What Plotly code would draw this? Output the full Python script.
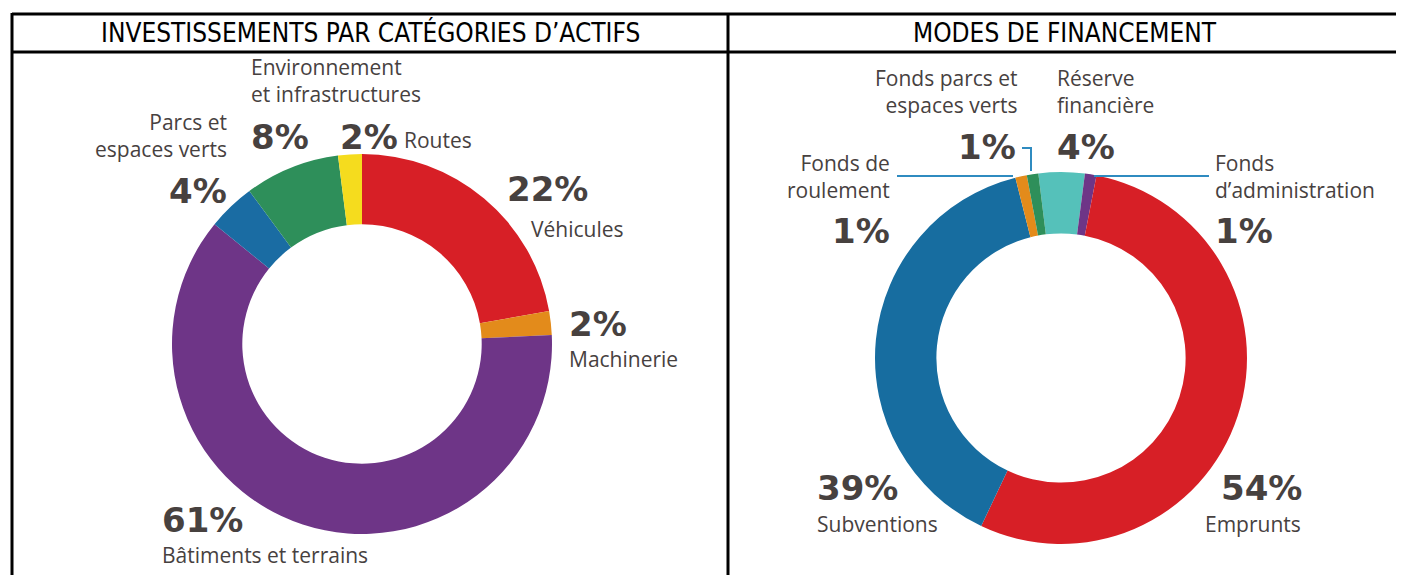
import plotly.graph_objects as go

W, H = 1404, 575
OX, OY = 8, 8  # page body margin offset

# ---- data ----
asset_labels = ["Véhicules", "Machinerie", "Bâtiments et terrains", "Parcs et espaces verts",
                "Environnement et infrastructures", "Routes"]
asset_values = [22, 2, 61, 4, 8, 2]
asset_colors = ["#D71F26", "#E38B1B", "#6E3587", "#1A6CA3", "#2E8F5A", "#F5DC1E"]

fin_labels = ["Réserve financière", "Fonds d’administration", "Emprunts", "Subventions",
              "Fonds de roulement", "Fonds parcs et espaces verts"]
fin_values = [4, 1, 54, 39, 1, 1]
fin_colors = ["#55C1BA", "#6E3587", "#D71F26", "#176DA0", "#E38B1B", "#2E8F5A"]

titles = ["INVESTISSEMENTS PAR CATÉGORIES D’ACTIFS", "MODES DE FINANCEMENT"]

# label texts (with line breaks) per slice
asset_label_text = ["Véhicules", "Machinerie", "Bâtiments et terrains", "Parcs et<br>espaces verts",
                    "Environnement<br>et infrastructures", "Routes"]
fin_label_text = ["Réserve<br>financière", "Fonds<br>d’administration", "Emprunts", "Subventions",
                  "Fonds de<br>roulement", "Fonds parcs et<br>espaces verts"]


def px(x):
    return (x - OX) / W


def py(y):
    return 1 - (y - OY) / H


def dom(cx, cy, r):
    return dict(x=[px(cx - r), px(cx + r)], y=[py(cy + r), py(cy - r)])


fig = go.Figure()
fig.add_trace(go.Pie(labels=asset_labels, values=asset_values, hole=0.63, sort=False,
                     direction="clockwise", rotation=0, textinfo="none",
                     marker=dict(colors=asset_colors, line=dict(width=0)),
                     domain=dom(362, 344, 190), showlegend=False))
fig.add_trace(go.Pie(labels=fin_labels, values=fin_values, hole=0.67, sort=False,
                     direction="clockwise", rotation=-7, textinfo="none",
                     marker=dict(colors=fin_colors, line=dict(width=0)),
                     domain=dom(1061, 358, 186), showlegend=False))

PCT_FONT = dict(family="DejaVu Sans", size=34, color="#47413F", weight="bold")
LAB_FONT = dict(family="Open Sans", size=21, color="#47413F")

ann = []


def pct(v, x, y, anchor):
    ann.append(dict(text=f"{v}%", x=px(x), y=py(y), xanchor=anchor, yanchor="middle",
                    font=PCT_FONT, showarrow=False, xref="paper", yref="paper",
                    borderpad=0))


def lab(t, x, y, anchor, yanchor="middle"):
    ann.append(dict(text=t, x=px(x), y=py(y), xanchor=anchor, yanchor=yanchor, align=anchor,
                    font=LAB_FONT, showarrow=False, xref="paper", yref="paper",
                    borderpad=0))


# left donut labels
pct(asset_values[0], 506, 189, "left"); lab(asset_label_text[0], 530, 229, "left")
pct(asset_values[1], 568, 324, "left"); lab(asset_label_text[1], 568, 359, "left")
pct(asset_values[2], 161, 520, "left"); lab(asset_label_text[2], 161, 555, "left")
pct(asset_values[3], 228, 191, "right"); lab(asset_label_text[3], 228, 136, "right")
pct(asset_values[4], 250, 137, "left"); lab(asset_label_text[4], 250, 81, "left")
pct(asset_values[5], 339, 137, "left"); lab(asset_label_text[5], 403, 140, "left")

# right donut labels
pct(fin_values[0], 1056, 147, "left"); lab(fin_label_text[0], 1056, 91, "left")
pct(fin_values[1], 1214, 231, "left"); lab(fin_label_text[1], 1214, 176, "left")
pct(fin_values[2], 1303, 488, "right"); lab(fin_label_text[2], 1302, 524, "right")
pct(fin_values[3], 816, 488, "left"); lab(fin_label_text[3], 816, 524, "left")
pct(fin_values[4], 891, 231, "right"); lab(fin_label_text[4], 891, 176, "right")
pct(fin_values[5], 1017, 147, "right"); lab(fin_label_text[5], 1019, 91, "right")

# headers
for t, cx in zip(titles, [370, 1065]):
    ann.append(dict(text=t, x=px(cx), y=py(33), xanchor="center", yanchor="middle",
                    font=dict(family="DejaVu Sans Condensed, sans-serif", size=26, color="#000000"),
                    showarrow=False, xref="paper", yref="paper"))

shapes = []
BL = dict(color="#000000", width=3)
shapes.append(dict(type="line", xref="paper", yref="paper", x0=px(12), x1=px(1420), y0=py(14), y1=py(14), line=BL))
shapes.append(dict(type="line", xref="paper", yref="paper", x0=px(12), x1=px(1420), y0=py(52), y1=py(52), line=BL))
shapes.append(dict(type="line", xref="paper", yref="paper", x0=px(12), x1=px(12), y0=py(13), y1=py(590), line=BL))
shapes.append(dict(type="line", xref="paper", yref="paper", x0=px(728), x1=px(728), y0=py(13), y1=py(590), line=BL))

LL = dict(color="#2F8BC0", width=2)
# leader lines (right donut)
shapes.append(dict(type="line", xref="paper", yref="paper", x0=px(897), x1=px(1013), y0=py(176), y1=py(176), line=LL))
shapes.append(dict(type="path", xref="paper", yref="paper",
                   path=f"M {px(1022)},{py(148)} L {px(1031)},{py(148)} L {px(1031)},{py(171)}", line=LL))
shapes.append(dict(type="line", xref="paper", yref="paper", x0=px(1094), x1=px(1209), y0=py(176), y1=py(176), line=LL))

fig.update_layout(width=W, height=H, margin=dict(l=0, r=0, t=0, b=0),
                  paper_bgcolor="white", plot_bgcolor="white",
                  annotations=ann, shapes=shapes)
fig.write_html("out.html")
